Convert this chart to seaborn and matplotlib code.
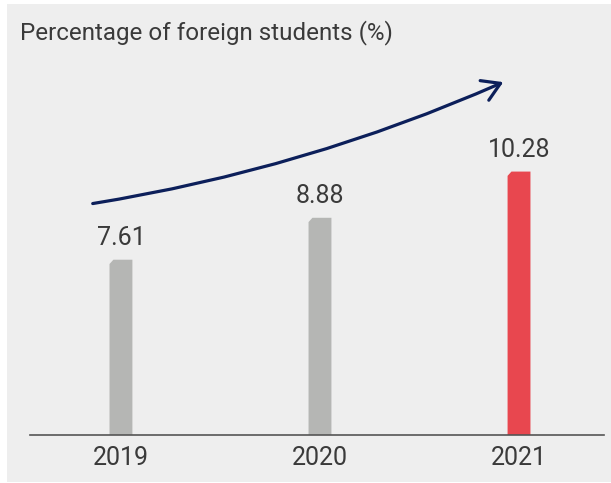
import matplotlib
matplotlib.use("Agg")
import matplotlib.pyplot as plt
import seaborn as sns
import pandas as pd
from matplotlib.patches import Rectangle, Polygon, FancyArrowPatch

years = ["2019", "2020", "2021"]
values = [7.61, 8.88, 10.28]
bar_colors = ["#b5b6b4", "#b5b6b4", "#e8474f"]
title = "Percentage of foreign students (%)"

sns.set_theme(style="white")
plt.rcParams["font.family"] = ["Roboto", "DejaVu Sans"]

W, H = 611, 483
fig = plt.figure(figsize=(W / 100, H / 100), dpi=100, facecolor="white")
fig.patches.append(Rectangle((7 / W, 1 / H), (W - 7) / W, (479 - 1) / H,
                             transform=fig.transFigure, facecolor="#eeeeee",
                             edgecolor="none", zorder=-10))

ax = fig.add_axes([30 / W, (H - 435) / H, (604 - 30) / W, (435 - 60) / H])
ax.set_facecolor("none")

df = pd.DataFrame({"year": years, "value": values})
sns.barplot(data=df, x="year", y="value", hue="year", palette=bar_colors,
            legend=False, width=0.115, ax=ax, saturation=1)

ax.set_xlim(-0.457, 2.427)
ax.set_ylim(2.3, 13.66)

for cont in ax.containers:
    ax.bar_label(cont, labels=[f"{v:.2f}" for v in cont.datavalues],
                 padding=7, fontsize=18, color="#3a3a3a")

# chamfer the top-left corner of each bar
for p in list(ax.patches):
    x0, w, h = p.get_x(), p.get_width(), p.get_height()
    y0 = p.get_y()
    cx, cy = w * 0.17, 0.13
    poly = Polygon([(x0, y0), (x0, y0 + h - cy), (x0 + cx, y0 + h),
                    (x0 + w, y0 + h), (x0 + w, y0)], closed=True,
                   facecolor=p.get_facecolor(), edgecolor="none")
    p.remove()
    ax.add_patch(poly)

for s in ["top", "right", "left"]:
    ax.spines[s].set_visible(False)
ax.spines["bottom"].set_color("#555555")
ax.spines["bottom"].set_linewidth(1.2)
ax.set_xlabel("")
ax.set_ylabel("")
ax.set_yticks([])
ax.tick_params(axis="x", length=0, pad=8, labelsize=18, labelcolor="#3a3a3a")

arrow = FancyArrowPatch((0.1045, 0.616), (0.829, 0.944), transform=ax.transAxes,
                        connectionstyle="arc3,rad=0.065",
                        arrowstyle="->,head_length=0.9,head_width=0.55",
                        color="#0c1f5a", lw=2.3, mutation_scale=14,
                        clip_on=False)
ax.add_patch(arrow)

fig.text(20 / W, 1 - 20 / H, title, ha="left", va="top", fontsize=17.4,
         color="#3a3a3a")

fig.savefig("out.png", dpi=100, facecolor="white")
